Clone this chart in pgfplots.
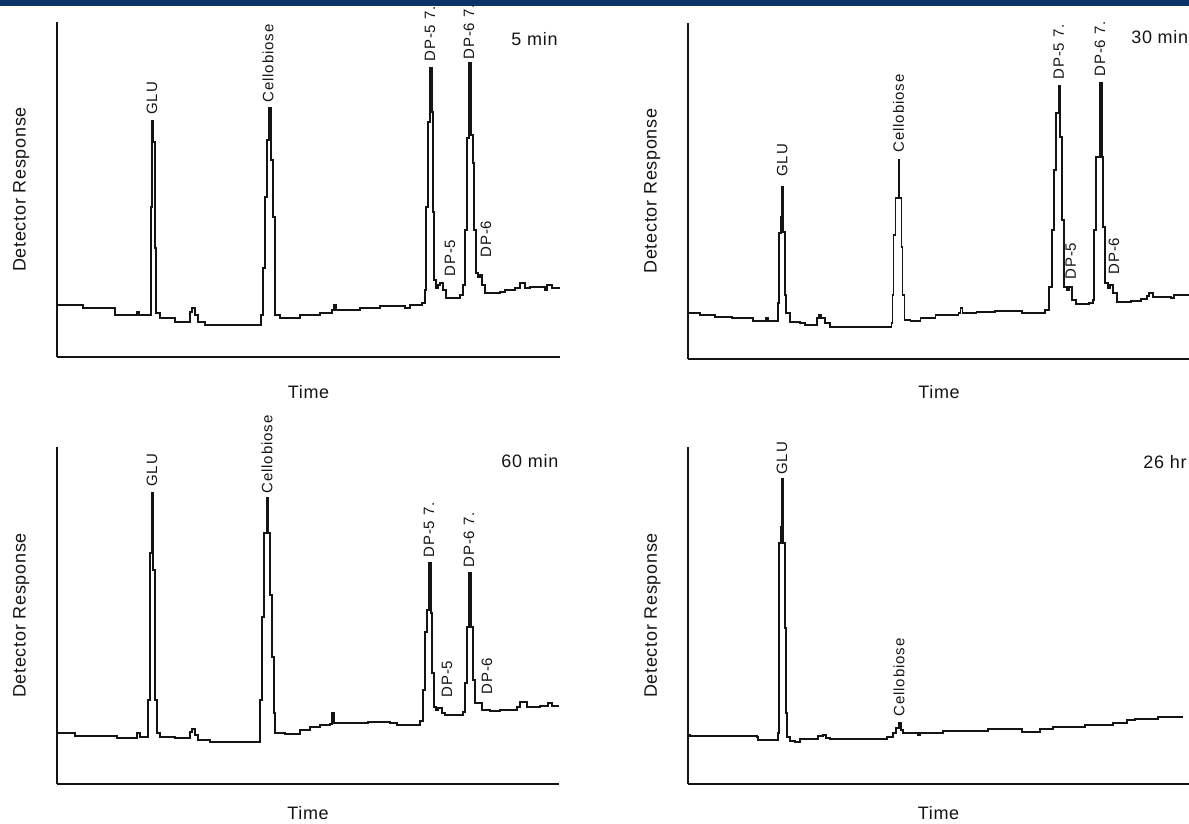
\documentclass[border=0pt]{standalone}
\usepackage{pgfplots}
\pgfplotsset{compat=1.18}
\usepackage{fontspec}
\setmainfont{Liberation Sans}
\newfontfamily\peakfont[LetterSpace=6]{Liberation Sans}
\newfontfamily\labfont[LetterSpace=4]{Liberation Sans}
\definecolor{band}{RGB}{10,52,104}
\definecolor{ink}{RGB}{20,20,20}

% one chromatogram panel: time and response in arbitrary units, no ticks
\pgfplotsset{
  chrom/.style={
    scale only axis, enlargelimits=false, clip=false,
    axis lines=left, axis line style={-, line width=1pt, ink},
    xtick=\empty, ytick=\empty, xmin=0, ymin=0,
    xlabel={Time}, ylabel={Detector Response},
    label style={font=\labfont\fontsize{9}{10}\selectfont, text=ink},
    ylabel style={at={(axis description cs:-0.071,0.5)}, anchor=center},
  },
  trace/.style={const plot, line width=0.9pt, ink, mark=none},
}
\tikzset{
  peak/.style={rotate=90, anchor=west, inner sep=0pt, font=\peakfont\fontsize{7.5}{8}\selectfont, text=ink},
  tag/.style={anchor=west, inner sep=0pt, font=\labfont\fontsize{9}{10}\selectfont, text=ink},
}

\begin{document}
\begin{tikzpicture}
\path[use as bounding box, clip] (0pt,0pt) rectangle (594.5pt,-412pt);
\fill[band] (0pt,0pt) rectangle (594.5pt,-3.25pt);

% ---- 5 min
\begin{axis}[chrom, at={(28.5pt,-178.5pt)}, anchor=south west,
  width=251.5pt, height=167.5pt, xmax=503, ymax=335,
  xlabel style={at={(axis description cs:0.5,0)}, anchor=center, yshift=-17.5pt}]
\addplot[trace] coordinates {
 (0,52) (26,49) (58,42) (79,42) (80,45) (82,42) (93,42) (94,150) (95,236)
 (96,215) (98,109) (99,44) (103,39) (118,35) (131,35) (133,45) (135,49)
 (138,42) (141,35) (148,32) (201,32) (204,42) (206,89) (208,160) (210,217)
 (212,249) (214,197) (216,140) (218,42) (223,39) (243,42) (263,44) (275,47)
 (277,52) (279,47) (303,49) (323,51) (348,49) (353,52) (365,54) (368,67)
 (369,150) (371,235) (373,289) (375,245) (376,145) (377,77) (379,69)
 (381,72) (383,74) (386,67) (389,59) (403,62) (406,72) (408,127) (410,219)
 (412,294) (414,222) (416,194) (417,127) (419,84) (421,80) (423,82)
 (425,72) (428,64) (443,65) (448,67) (458,69) (463,74) (468,69) (473,70)
 (488,67) (490,72) (495,69) (503,69)};
\node[peak] at (axis cs:95,242) {GLU};
\node[peak] at (axis cs:211,254) {Cellobiose};
\node[peak] at (axis cs:373,295) {DP-5 7.};
\node[peak] at (axis cs:412,297) {DP-6 7.};
\node[peak] at (axis cs:393,80) {DP-5};
\node[peak] at (axis cs:429,99) {DP-6};
\node[tag] at (axis cs:454,318) {5 min};
\end{axis}

% ---- 30 min
\begin{axis}[chrom, at={(344pt,-179.5pt)}, anchor=south west,
  width=251pt, height=168pt, xmax=501, ymax=336,
  xlabel style={at={(axis description cs:0.5,0)}, anchor=center, yshift=-16.5pt}]
\addplot[trace] coordinates {
 (0,46) (12,44) (27,42) (44,41) (65,38) (77,38) (78,41) (80,38) (89,38)
 (90,56) (91,126) (93,142) (94,172) (95,127) (97,64) (98,46) (102,37)
 (112,36) (117,34) (127,34) (129,41) (131,44) (133,41) (137,36) (142,32)
 (202,32) (203,36) (204,64) (205,124) (207,161) (210,199) (211,161)
 (213,112) (214,64) (216,39) (222,38) (232,41) (247,44) (270,46) (272,51)
 (274,46) (288,47) (306,48) (333,46) (356,49) (360,72) (363,129) (365,189)
 (367,246) (370,273) (371,222) (373,139) (375,72) (378,69) (380,72)
 (383,59) (387,55) (400,56) (404,59) (405,129) (407,202) (411,276)
 (413,202) (414,132) (416,76) (419,71) (421,74) (424,66) (428,57) (442,58)
 (452,60) (458,63) (460,66) (464,62) (482,61) (485,64) (501,62)};
\node[peak] at (axis cs:94,182) {GLU};
\node[peak] at (axis cs:210,206) {Cellobiose};
\node[peak] at (axis cs:370,279) {DP-5 7.};
\node[peak] at (axis cs:411,282) {DP-6 7.};
\node[peak] at (axis cs:382,79) {DP-5};
\node[peak] at (axis cs:425,84) {DP-6};
\node[tag] at (axis cs:442,322) {30 min};
\end{axis}

% ---- 60 min
\begin{axis}[chrom, at={(28.5pt,-392pt)}, anchor=south west,
  width=251pt, height=168.5pt, xmax=502, ymax=337,
  xlabel style={at={(axis description cs:0.5,0)}, anchor=center, yshift=-14.5pt}]
\addplot[trace] coordinates {
 (0,51) (18,48) (60,46) (78,46) (80,51) (83,47) (90,47) (91,84) (93,231)
 (95,291) (96,214) (98,84) (100,51) (103,47) (118,46) (131,46) (133,52)
 (135,55) (138,49) (141,44) (153,42) (201,42) (203,84) (205,167) (207,251)
 (210,286) (211,251) (213,189) (215,127) (217,71) (218,51) (228,50)
 (243,54) (253,57) (263,59) (273,60) (275,71) (277,61) (293,61) (311,62)
 (333,61) (340,59) (356,59) (363,63) (366,94) (368,152) (370,174)
 (372,221) (374,171) (375,111) (377,77) (379,74) (381,76) (385,71)
 (388,69) (403,69) (406,72) (408,101) (410,157) (412,211) (414,157)
 (416,104) (418,81) (421,81) (425,74) (433,73) (443,74) (460,77) (463,82)
 (470,77) (483,78) (491,81) (495,78) (502,78)};
\node[peak] at (axis cs:95,297) {GLU};
\node[peak] at (axis cs:210,290) {Cellobiose};
\node[peak] at (axis cs:372,226) {DP-5 7.};
\node[peak] at (axis cs:412,216) {DP-6 7.};
\node[peak] at (axis cs:390,86) {DP-5};
\node[peak] at (axis cs:430,89) {DP-6};
\node[tag] at (axis cs:444,323) {60 min};
\end{axis}

% ---- 26 hr
\begin{axis}[chrom, at={(344pt,-392pt)}, anchor=south west,
  width=250.5pt, height=168.5pt, xmax=501, ymax=337,
  xlabel style={at={(axis description cs:0.5,0)}, anchor=center, yshift=-14.5pt}]
\addplot[trace] coordinates {
 (0,49) (2,48) (69,47) (70,44) (89,44) (90,51) (91,241) (93,257) (94,305)
 (95,241) (97,156) (98,71) (99,47) (102,43) (107,42) (112,45) (127,45)
 (130,48) (135,49) (138,46) (142,45) (192,45) (199,47) (205,51) (208,56)
 (211,61) (213,54) (215,51) (230,49) (232,51) (255,53) (300,55) (334,52)
 (352,55) (365,57) (397,59) (425,61) (439,64) (447,65) (470,67) (495,67)};
\node[peak] at (axis cs:94,309) {GLU};
\node[peak] at (axis cs:211,67) {Cellobiose};
\node[tag] at (axis cs:455,322) {26 hr};
\end{axis}
\end{tikzpicture}
\end{document}
